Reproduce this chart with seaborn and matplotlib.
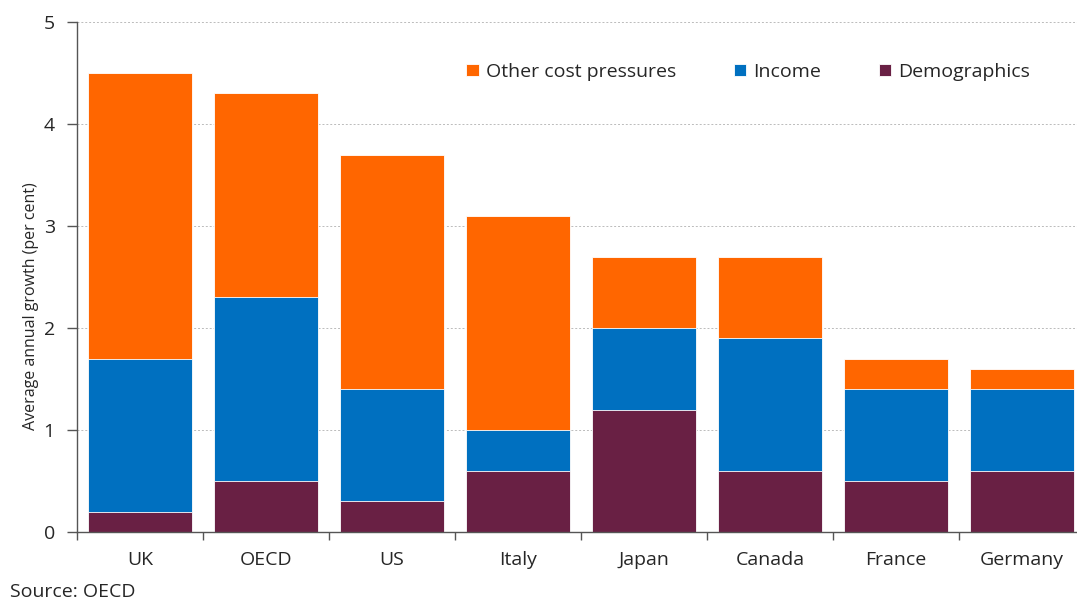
import numpy as np
import pandas as pd
import matplotlib.pyplot as plt
import seaborn as sns

# Dados (crescimento anual médio, %)
paises = ['UK', 'OECD', 'US', 'Italy', 'Japan', 'Canada', 'France', 'Germany']
demografia = [0.2, 0.5, 0.3, 0.6, 1.2, 0.6, 0.5, 0.6]
renda = [1.5, 1.8, 1.1, 0.4, 0.8, 1.3, 0.9, 0.8]
outros_custos = [2.8, 2.0, 2.3, 2.1, 0.7, 0.8, 0.3, 0.2]

cor_outros = '#FF6600'
cor_renda = '#0070C0'
cor_demo = '#692044'

df = pd.DataFrame({
    'País': paises,
    'Demographics': demografia,
    'Income': renda,
    'Other cost pressures': outros_custos,
})
df['nivel_renda'] = df['Demographics'] + df['Income']
df['total'] = df['nivel_renda'] + df['Other cost pressures']

sns.set_style('white')
plt.rcParams['font.family'] = ['Open Sans', 'DejaVu Sans']

fig = plt.figure(figsize=(10.77, 6.03), dpi=100)
ax = fig.add_axes([0.0715, 0.1177, 0.936, 0.8458])

largura = 0.83
sns.barplot(data=df, x='País', y='total', color=cor_outros, width=largura,
            saturation=1, edgecolor='white', linewidth=0.6, ax=ax,
            label='Other cost pressures')
sns.barplot(data=df, x='País', y='nivel_renda', color=cor_renda, width=largura,
            saturation=1, edgecolor='white', linewidth=0.6, ax=ax,
            label='Income')
sns.barplot(data=df, x='País', y='Demographics', color=cor_demo, width=largura,
            saturation=1, edgecolor='white', linewidth=0.6, ax=ax,
            label='Demographics')

ax.set_xlim(-0.5, len(paises) - 0.5)
ax.set_ylim(0, 5)
ax.set_yticks([0, 1, 2, 3, 4, 5])
ax.yaxis.grid(True, color='#BBBBBB', linestyle=(0, (2, 2)), linewidth=0.7)
ax.set_axisbelow(True)

ax.set_xlabel('')
ax.set_ylabel('Average annual growth (per cent)', fontsize=11.5)
ax.yaxis.set_label_coords(-0.038, 0.443)
ax.tick_params(axis='x', length=0, labelsize=14, pad=14)
ax.tick_params(axis='y', direction='out', length=7, width=1, color='#555555',
               labelsize=14, pad=9, left=True)
ax.set_xticks(np.arange(-0.5, len(paises), 1), minor=True)
ax.tick_params(axis='x', which='minor', direction='out', length=6, width=1,
               color='#555555', bottom=True)

for lado in ['top', 'right']:
    ax.spines[lado].set_visible(False)
for lado in ['left', 'bottom']:
    ax.spines[lado].set_color('#555555')
    ax.spines[lado].set_linewidth(1)

leg = ax.legend(loc='center left', bbox_to_anchor=(0.369, 0.902), ncol=3,
                frameon=False, fontsize=14, handlelength=0.62,
                handleheight=0.62, handletextpad=0.36, columnspacing=3.0)

fig.text(0.009, 0.003, 'Source: OECD', fontsize=14, ha='left', va='bottom')

plt.savefig('out.png', dpi=100)
plt.close()
